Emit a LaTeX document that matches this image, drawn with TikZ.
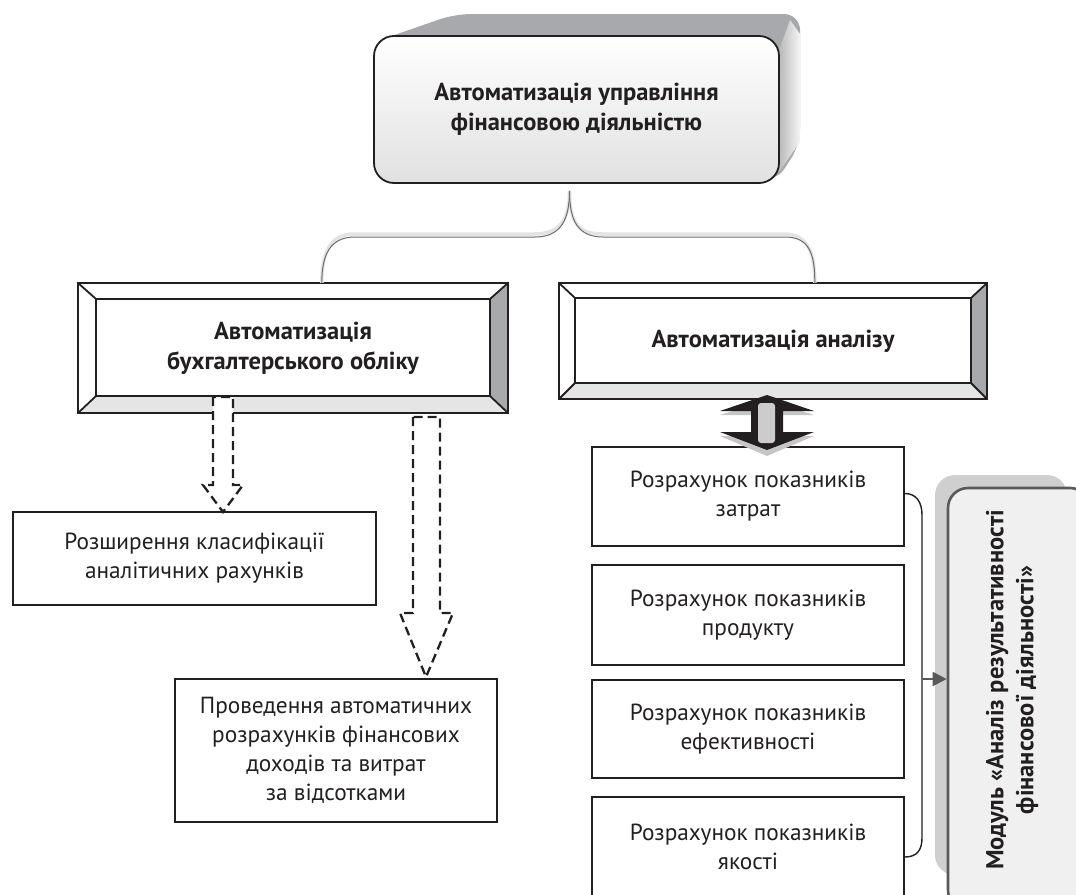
\documentclass[tikz,border=0pt]{standalone}
\usepackage{fontspec}
\setmainfont{PT Sans}
\usetikzlibrary{calc,arrows.meta}
\definecolor{txt}{HTML}{231F20}
\definecolor{modfill}{HTML}{F0F0F1}
\definecolor{modline}{HTML}{58595B}
\definecolor{extr}{HTML}{A7A9AC}
\newcommand\bevelframe[4]{%
  \coordinate (#1-a) at ($(#1.north west)+(#2,#3)$);
  \coordinate (#1-b) at ($(#1.north east)+(-#2,#3)$);
  \coordinate (#1-c) at ($(#1.south east)+(-#2,-#4)$);
  \coordinate (#1-d) at ($(#1.south west)+(#2,-#4)$);
  \fill[gray!20] (#1.south west) -- (#1.south east) -- (#1-c) -- (#1-d) -- cycle;
  \fill[extr] (#1.north east) -- (#1.south east) -- (#1-c) -- (#1-b) -- cycle;
  \draw[frame] (#1.north west) rectangle (#1.south east);
  \draw[frame] (#1-a) rectangle (#1-c);
  \draw[frame] (#1.north west) -- (#1-a) (#1.north east) -- (#1-b)
               (#1.south east) -- (#1-c) (#1.south west) -- (#1-d);
}
\begin{document}
\begin{tikzpicture}[x=1pt,y=-1pt,
  frame/.style={draw=txt,line width=1.8pt},
  regtext/.style={font=\fontsize{23.3}{29}\selectfont,text=txt,align=center},
  boldtext/.style={font=\bfseries\fontsize{24.5}{30}\selectfont,text=txt,align=center},
  plainbox/.style={regtext,draw=txt,line width=1.8pt,fill=white,inner sep=0pt},
  bevelbox/.style={boldtext,fill=white,inner sep=0pt},
  dasharrow/.style={draw=txt,line width=2.3pt,dash pattern=on 9pt off 5pt,fill=white},
  bracegray/.style={draw=gray!85!black,line width=1pt},
  braceglow/.style={draw=gray!22,line width=3.5pt},
  brace/.style={draw=txt,line width=1.4pt}]
\useasboundingbox (0,0) rectangle (1076,894);

% ---------- top box with 3D extrusion ----------
\fill[extr,rounded corners=16pt] (380,40) -- (455,14) -- (800,14) -- (800,145) -- (775,183) -- cycle;
\shade[left color=gray!55,right color=gray!8] (779,50) -- (790,20) -- (800,34) -- (800,142) -- (779,172) -- cycle;
\node[boldtext,draw=txt,line width=1.8pt,rounded corners=20pt,
      top color=white,bottom color=gray!24,
      minimum width=405pt,minimum height=147pt,inner sep=0pt]
      (top) at (576.5,109.5) {Автоматизація управління\\фінансовою діяльністю};

% ---------- second level beveled boxes ----------
\node[bevelbox,minimum width=430pt,minimum height=130pt] (lbox) at (293,348)
      {Автоматизація\\бухгалтерського обліку};
\bevelframe{lbox}{18}{16}{17}
\node[bevelbox,minimum width=428pt,minimum height=116pt] (rbox) at (773,341)
      {Автоматизація аналізу};
\bevelframe{rbox}{16}{15}{16}

% ---------- brace connectors from top box ----------
\coordinate (bs) at ($(top.south)+(-7,7)$);
\coordinate (bl) at ($(lbox.north west)+(244,0)$);
\coordinate (br) at ($(rbox.north west)+(256,0)$);
\begin{scope}[shift={(-1,-3)}]
\draw[braceglow] (bs) .. controls +(0,30) and +(25,0) .. (535,237) -- (355,237)
      .. controls +(-25,0) and +(0,-28) .. (bl);
\draw[braceglow] (bs) .. controls +(0,30) and +(-25,0) .. (603,237) -- (785,237)
      .. controls +(25,0) and +(0,-28) .. (br);
\end{scope}
\draw[bracegray] (bs) .. controls +(0,30) and +(25,0) .. (535,237) -- (355,237)
      .. controls +(-25,0) and +(0,-28) .. (bl);
\draw[bracegray] (bs) .. controls +(0,30) and +(-25,0) .. (603,237) -- (785,237)
      .. controls +(25,0) and +(0,-28) .. (br);

% ---------- left lower boxes ----------
\node[plainbox,minimum width=363pt,minimum height=93pt] (ext) at (194.5,558.5)
      {Розширення класифікації\\аналітичних рахунків};
\node[plainbox,minimum width=322pt,minimum height=143pt] (prov) at (336,750.5)
      {Проведення автоматичних\\розрахунків фінансових\\доходів та витрат\\за відсотками};

% dashed block arrows
\coordinate (t1) at (223,512);
\draw[dasharrow] (213,397) -- (213,485) -- (203,485) -- (t1) -- (243,485) -- (233,485) -- (233,397) -- cycle;
\coordinate (t2) at (426,677);
\draw[dasharrow] (413,417) -- (413,613) -- (400,613) -- (t2) -- (453,613) -- (440,613) -- (440,417) -- cycle;

% ---------- right column ----------
\node[plainbox,minimum width=312pt,minimum height=99pt] (r1) at (748,496.5)
      {Розрахунок показників\\затрат};
\node[plainbox,minimum width=312pt,minimum height=100pt] (r2) at (748,615)
      {Розрахунок показників\\продукту};
\node[plainbox,minimum width=312pt,minimum height=98pt] (r3) at (748,729)
      {Розрахунок показників\\ефективності};
\node[plainbox,minimum width=312pt,minimum height=100pt] (r4) at (748,847)
      {Розрахунок показників\\якості};

% double block arrow
\fill[gray!45] (767,400) -- (814,415) -- (720,415) -- cycle;
\fill[gray!45] (720,436) -- (814,436) -- (767,456) -- cycle;
\fill[txt] (767,395) -- (814,411) -- (783,411) -- (783,432) -- (814,432) -- (767,450)
           -- (720,432) -- (751,432) -- (751,411) -- (720,411) -- cycle;
\fill[gray!40,rounded corners=3pt] (758,403) rectangle (775,443);

% right brace
\draw[brace] ($(r1.east)+(0,-3)$) .. controls +(12,0) and +(0,-12) .. (922,515) -- (922,838)
      .. controls +(0,12) and +(12,0) .. ($(r4.east)+(0,10)$);

% ---------- module box ----------
\fill[gray!38,rounded corners=20pt] (935,475) rectangle (1067,875);
\node[draw=modline,line width=2.6pt,fill=modfill,rounded corners=20pt,
      minimum width=142pt,minimum height=422pt,inner sep=0pt] (mod) at (1019,699) {};
\node[boldtext,rotate=90] (modtxt) at (1012,690)
      {Модуль «Аналіз результативності\\фінансової діяльності»};
\coordinate (bj) at (922,679);
\draw[line width=1.8pt,draw=modline,-{Triangle[length=14pt,width=14pt]}] (bj) -- (bj -| mod.west);
\end{tikzpicture}
\end{document}
